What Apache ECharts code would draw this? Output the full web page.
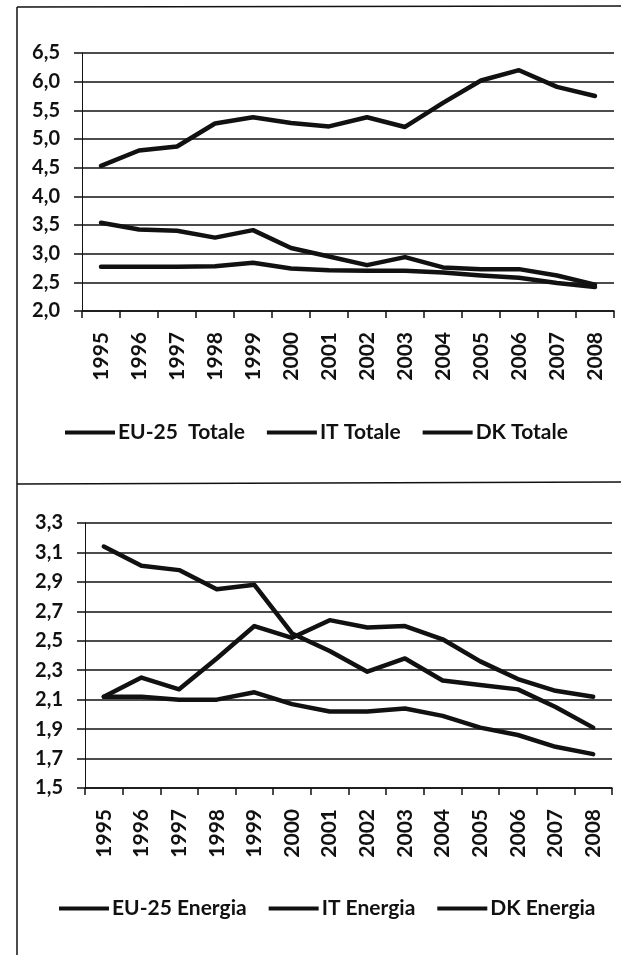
<!DOCTYPE html>
<html>
<head>
<meta charset="utf-8">
<script src="https://cdn.jsdelivr.net/npm/echarts@6/dist/echarts.min.js"></script>
<style>
  html, body { margin: 0; padding: 0; background: #fff; }
  #chart { width: 621px; height: 955px; }
</style>
</head>
<body>
<div id="chart"></div>
<script>
// anni (asse x comune ai due grafici)
const years = ['1995', '1996', '1997', '1998', '1999', '2000', '2001',
  '2002', '2003', '2004', '2005', '2006', '2007', '2008']

// grafico in alto: Totale
const totNames = ['EU-25  Totale', 'IT Totale', 'DK Totale']
const euTotale = [4.53, 4.80, 4.87, 5.27, 5.38, 5.28, 5.22, 5.38, 5.21, 5.63, 6.02, 6.20, 5.91, 5.75]
const itTotale = [3.54, 3.42, 3.40, 3.28, 3.41, 3.10, 2.95, 2.80, 2.94, 2.76, 2.73, 2.73, 2.62, 2.46]
const dkTotale = [2.77, 2.77, 2.77, 2.78, 2.84, 2.74, 2.71, 2.70, 2.70, 2.67, 2.62, 2.58, 2.49, 2.42]

// grafico in basso: Energia
const enNames = ['EU-25 Energia', 'IT Energia', 'DK Energia']
const euEnergia = [3.14, 3.01, 2.98, 2.85, 2.88, 2.55, 2.43, 2.29, 2.38, 2.23, 2.20, 2.17, 2.05, 1.91]
const itEnergia = [2.12, 2.25, 2.17, 2.38, 2.60, 2.52, 2.64, 2.59, 2.60, 2.51, 2.36, 2.24, 2.16, 2.12]
const dkEnergia = [2.12, 2.12, 2.10, 2.10, 2.15, 2.07, 2.02, 2.02, 2.04, 1.99, 1.91, 1.86, 1.78, 1.73]

const FONT = 'Lato'
const INK = '#111'

const comma = (v) => Number(v).toFixed(1).replace('.', ',')

function xAxis(gridIndex) {
  return {
    type: 'category',
    gridIndex,
    data: years,
    boundaryGap: true,
    axisLine: { lineStyle: { color: INK, width: 1.5 } },
    axisTick: { show: true, length: 7, lineStyle: { color: INK, width: 1.5 } },
    axisLabel: {
      rotate: 90, margin: 21, interval: 0,
      color: INK, fontFamily: FONT, fontWeight: 'bold', fontSize: 21,
    },
  }
}

function yAxis(gridIndex, min, max, interval) {
  return {
    type: 'value',
    gridIndex, min, max, interval,
    axisLine: { show: true, lineStyle: { color: INK, width: 1 } },
    axisTick: { show: true, length: 8, lineStyle: { color: INK, width: 1.5 } },
    splitLine: { show: true, lineStyle: { color: INK, width: 1.5 } },
    axisLabel: {
      margin: 22, color: INK, fontFamily: FONT, fontWeight: 'bold', fontSize: 20,
      formatter: comma,
    },
  }
}

function line(name, data, idx) {
  return {
    name, type: 'line', data,
    xAxisIndex: idx, yAxisIndex: idx,
    showSymbol: false, smooth: false, animation: false,
    lineStyle: { color: INK, width: 4.5, cap: 'round', join: 'round' },
    itemStyle: { color: INK },
  }
}

function legend(names, left, top) {
  return {
    data: names, left, top,
    icon: 'rect', itemWidth: 50, itemHeight: 4, itemGap: 22,
    textStyle: { color: INK, fontFamily: FONT, fontWeight: 'bold', fontSize: 21, padding: [0, 0, 0, -2] },
  }
}

const chart = echarts.init(document.getElementById('chart'), null, { renderer: 'canvas' })

chart.setOption({
  backgroundColor: '#fff',
  animation: false,
  grid: [
    { left: 82, right: 7, top: 53, height: 258 },
    { left: 85, right: 9, top: 523, height: 265 },
  ],
  xAxis: [xAxis(0), xAxis(1)],
  yAxis: [yAxis(0, 2, 6.5, 0.5), yAxis(1, 1.5, 3.3, 0.2)],
  legend: [legend(totNames, 60, 417), legend(enNames, 54, 893)],
  graphic: [
    { type: 'line', shape: { x1: 17, y1: 7, x2: 621, y2: 6 }, style: { stroke: INK, lineWidth: 1.5 } },
    { type: 'line', shape: { x1: 17, y1: 7, x2: 17, y2: 955 }, style: { stroke: INK, lineWidth: 1.5 } },
    { type: 'line', shape: { x1: 17, y1: 484, x2: 621, y2: 482 }, style: { stroke: INK, lineWidth: 1.5 } },
  ],
  series: [
    line(totNames[0], euTotale, 0),
    line(totNames[1], itTotale, 0),
    line(totNames[2], dkTotale, 0),
    line(enNames[0], euEnergia, 1),
    line(enNames[1], itEnergia, 1),
    line(enNames[2], dkEnergia, 1),
  ],
})
</script>
</body>
</html>
